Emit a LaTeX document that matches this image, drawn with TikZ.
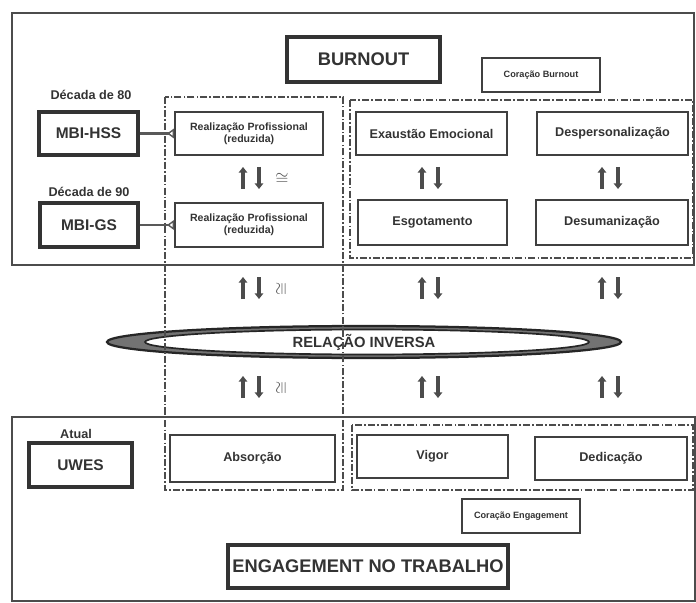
\documentclass[tikz,border=0pt]{standalone}
\usepackage{fontspec}
\setmainfont{Liberation Sans}
\usetikzlibrary{arrows.meta}

\tikzset{
  wh/.style 2 args={minimum width=#1*0.025cm, minimum height=#2*0.025cm},
  box/.style={draw=black!75, line width=1.3pt, fill=white, inner sep=1pt, align=center,
    text=black!80, font=\bfseries\fontsize{9}{10}\selectfont},
  heavybox/.style={box, line width=2.4pt, draw=black!80},
  smallbox/.style={box, line width=1.1pt, font=\bfseries\fontsize{6.5}{7}\selectfont},
  frame/.style={draw=black!70, line width=1.8pt},
  dashdot/.style={draw=black!70, line width=1.2pt, dash pattern=on 5pt off 1.5pt on 1.2pt off 1.5pt},
  tag/.style={text=black!80, font=\bfseries\fontsize{9}{10}\selectfont},
  eqsign/.style={text=black!70, inner sep=0pt, font=\fontsize{13}{13}\selectfont},
  updown/.style={line width=2.2pt, black!70, -{Triangle[length=4pt,width=6pt]}},
  conn/.style={line width=1.8pt, black!65, -{Triangle[open,reversed,length=5pt,width=7pt,line width=1pt]}},
}

\begin{document}
\begin{tikzpicture}[x=0.025cm, y=-0.025cm]
\useasboundingbox (0,0) rectangle (696,603);
% grandes quadros
\draw[frame] (12,13) rectangle (694,265);
\draw[frame] (12,417) rectangle (695,601);
% relacao inversa
\fill[black!55] (364,342) ellipse [x radius=257, y radius=16];
\draw[black!85, line width=1.6pt] (364,342) ellipse [x radius=257, y radius=16];
\fill[white] (367,342) ellipse [x radius=222, y radius=12.5];
\draw[black!85, line width=1.2pt] (367,342) ellipse [x radius=222, y radius=12.5];
\node[tag, font=\bfseries\fontsize{10.5}{12}\selectfont] (relacao) at (364,342) {RELAÇÃO INVERSA};
% caixas tracejadas
\draw[dashdot] (165,97) rectangle (343,490);
\draw[dashdot] (350,100) rectangle (693,258);
\draw[dashdot] (352,425) rectangle (693,490);

\node[heavybox, wh={153}{45}, font=\bfseries\fontsize{13}{14}\selectfont] (burnout) at (363.5,59.5) {BURNOUT};
\node[smallbox, wh={118}{34}] (cburnout) at (541,75) {Coração Burnout};

\node[tag] (dec80) at (91,95) {Década de 80};
\node[tag] (dec90) at (89,192) {Década de 90};
\node[heavybox, wh={99}{43}, font=\bfseries\fontsize{11}{12}\selectfont] (mbihss) at (88.5,133.5) {MBI-HSS};
\node[heavybox, wh={98}{44}, font=\bfseries\fontsize{11}{12}\selectfont] (mbigs) at (89,225) {MBI-GS};
\node[box, wh={148}{43}, font=\bfseries\fontsize{7.5}{8.5}\selectfont] (realiz1) at (249,133.5) {Realização Profissional\\(reduzida)};
\node[box, wh={148}{44}, font=\bfseries\fontsize{7.5}{8.5}\selectfont] (realiz2) at (249,225) {Realização Profissional\\(reduzida)};
\node[box, wh={151}{43}] (exaustao) at (431.5,133.5) {Exaustão Emocional};
\node[box, wh={151}{43}] (desperso) at (612.5,133.5) {Despersonalização};
\node[box, wh={149}{45}] (esgot) at (432.5,222.5) {Esgotamento};
\node[box, wh={152}{45}] (desuman) at (612,222.5) {Desumanização};

\draw[conn] (mbihss) -- (realiz1);
\draw[conn] (mbigs) -- (realiz2);

\node[tag] (atual) at (76,434) {Atual};
\node[heavybox, wh={103}{44}, font=\bfseries\fontsize{11}{12}\selectfont] (uwes) at (80.5,465) {UWES};
\node[box, wh={165}{47}] (absorcao) at (252.5,458.5) {Absorção};
\node[box, wh={151}{43}] (vigor) at (432.5,456.5) {Vigor};
\node[box, wh={152}{43}] (dedicacao) at (611,458.5) {Dedicação};
\node[smallbox, wh={118}{34}] (cengag) at (521,516) {Coração Engagement};
\node[heavybox, wh={280}{43}, font=\bfseries\fontsize{13}{14}\selectfont] (engag) at (368,566.5) {ENGAGEMENT NO TRABALHO};

% setas de equivalencia
\foreach \x/\y in {251/178, 430/178, 610/178, 251/288, 430/288, 610/288, 251/387, 430/387, 610/387} {
  \draw[updown] (\x-8,\y+11) -- (\x-8,\y-11);
  \draw[updown] (\x+8,\y-11) -- (\x+8,\y+11);
}
\node[eqsign] (eq1) at (282,179) {$\cong$};
\node[eqsign, rotate=90] (eq2) at (282,289) {$\cong$};
\node[eqsign, rotate=90] (eq3) at (282,388) {$\cong$};
\end{tikzpicture}
\end{document}
